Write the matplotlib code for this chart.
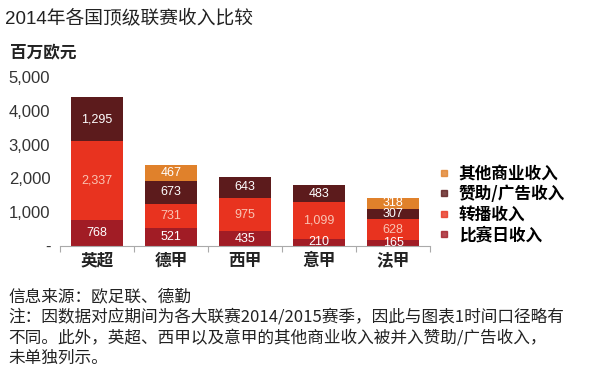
import matplotlib
matplotlib.use("Agg")
from matplotlib import pyplot as plt
from matplotlib.lines import Line2D
import numpy as np

plt.rcParams['font.family'] = ['Liberation Sans', 'Noto Sans CJK SC', 'DejaVu Sans']

# 数据 (百万欧元)
leagues = ['英超', '德甲', '西甲', '意甲', '法甲']
matchday = [768, 521, 435, 210, 165]
broadcast = [2337, 731, 975, 1099, 628]
sponsor = [1295, 673, 643, 483, 307]
other = [0, 467, 0, 0, 318]
series_names = ['比赛日收入', '转播收入', '赞助/广告收入', '其他商业收入']
colors = ['#a11c25', '#e8331f', '#5c1b1c', '#e0812b']
label_colors = ['white', '#f9c3b3', 'white', 'white']
yticks = [0, 1000, 2000, 3000, 4000, 5000]
ytick_labels = ['-', '1,000', '2,000', '3,000', '4,000', '5,000']

fig = plt.figure(figsize=(6, 3.75), dpi=100)
ax = fig.add_axes([60/600, 129/375, 370/600, 169/375])

x = np.arange(len(leagues))
bottom = np.zeros(len(leagues))
for vals, c, lc in zip([matchday, broadcast, sponsor, other], colors, label_colors):
    vals = np.array(vals)
    ax.bar(x, vals, width=0.7, bottom=bottom, color=c, edgecolor='none')
    for xi, b, v in zip(x, bottom, vals):
        if v > 0:
            ax.text(xi, b + v / 2, f'{v:,}', ha='center', va='center',
                    fontsize=9, color=lc)
    bottom = bottom + vals

ax.set_xlim(-0.5, 4.5)
ax.set_ylim(0, 5000)
for s in ['top', 'right', 'left']:
    ax.spines[s].set_visible(False)
ax.spines['bottom'].set_color('#aaaaaa')
ax.set_yticks(yticks)
ax.set_yticklabels(ytick_labels, fontsize=12, color='#333333')
ax.tick_params(axis='y', length=0, pad=7)
ax.set_xticks(np.arange(-0.5, 5, 1))
ax.set_xticklabels([])
ax.tick_params(axis='x', which='major', length=4, color='#aaaaaa')
ax.set_xticks(x, minor=True)
ax.set_xticklabels(leagues, minor=True, fontsize=12, fontweight='bold',
                   family=['Noto Sans CJK SC'], color='#222222')
ax.tick_params(axis='x', which='minor', length=0, pad=4)

handles = [Line2D([], [], marker='s', linestyle='none', markersize=4,
                  color=c, alpha=0.8) for c in colors[::-1]]
fig.legend(handles, series_names[::-1], loc='upper left',
           bbox_to_anchor=(432/600, 1 - 158/375), frameon=False,
           prop={'family': 'Noto Sans CJK SC', 'size': 12, 'weight': 'bold'},
           handlelength=0.6, handletextpad=0.6, labelspacing=0.15,
           borderaxespad=0)

fig.text(5/600, 1 - 18/375, '2014年各国顶级联赛收入比较', fontsize=13.5,
         va='center', ha='left', color='#222222')
fig.text(10/600, 1 - 52/375, '百万欧元', fontsize=12, fontweight='bold',
         family=['Noto Sans CJK SC'], va='center', ha='left', color='#222222')

notes = ['信息来源：欧足联、德勤',
         '注：因数据对应期间为各大联赛2014/2015赛季，因此与图表1时间口径略有',
         '不同。此外，英超、西甲以及意甲的其他商业收入被并入赞助/广告收入，',
         '未单独列示。']
for i, line in enumerate(notes):
    fig.text(8/600, 1 - (297 + i * 20.5)/375, line, fontsize=12,
             family=['Noto Sans CJK SC', 'DejaVu Sans'], va='center',
             ha='left', color='#222222')

fig.savefig('out.png', dpi=100)
